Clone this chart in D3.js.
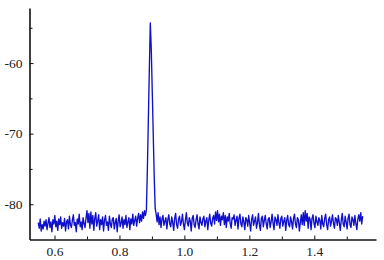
<!DOCTYPE html>
<html>
<head>
<meta charset="utf-8">
<script src="https://cdn.jsdelivr.net/npm/d3@7"></script>
<style>
  body { margin: 0; background: #fff; }
  .axis text { font-family: "Liberation Serif", "Times New Roman", serif; font-size: 13.5px; fill: #222; }
  .axis path, .axis line { stroke: #111; }
</style>
</head>
<body>
<div id="chart"></div>
<script>
// Sampling of the spectrum (x in arbitrary units)
var freqStart = 0.550;
var freqStep = 0.003;

// Levels, left baseline / peak / right baseline
var baseLeft = [
  -82.6,-83.4,-82.1,-83.8,-82.9,-83.5,-82.4,-83.1,-82.2,-83.6,
  -82.7,-81.9,-83.3,-82.5,-83.9,-82.2,-82.8,-81.6,-83.2,-82.4,
  -83.7,-82.1,-82.9,-81.8,-83.4,-82.6,-83.1,-82.0,-83.8,-82.5,
  -82.2,-83.5,-81.7,-82.9,-83.3,-82.3,-81.5,-83.0,-82.6,-83.9,
  -82.1,-82.8,-81.4,-83.2,-82.5,-83.6,-81.9,-82.7,-83.3,-82.0,
  -80.9,-82.6,-81.3,-83.4,-81.1,-82.8,-81.6,-83.7,-82.0,-81.2,
  -83.1,-82.4,-81.5,-83.6,-82.2,-82.9,-81.8,-83.8,-82.3,-81.6,
  -83.0,-82.5,-83.7,-81.7,-82.8,-83.3,-82.1,-81.9,-83.5,-82.6,
  -82.0,-83.9,-82.4,-81.5,-83.2,-82.7,-81.8,-83.4,-82.2,-82.9,
  -81.6,-83.3,-82.5,-81.9,-83.6,-82.1,-82.8,-81.4,-83.0,-82.3,
  -81.7,-83.1,-82.0,-81.3,-82.6,-81.5,-82.4,-81.1,-82.0,-80.9,
  -81.6
];
var peak = [-80.8,-75.0,-68.0,-61.0,-54.3,-58.0,-64.0,-70.0,-76.0,-80.6];
var baseRight = [
  -81.4,-82.5,-81.2,-82.9,-81.8,-83.3,-82.1,-81.6,-83.0,-82.4,
  -81.9,-83.5,-82.2,-81.5,-82.8,-83.2,-81.8,-82.6,-83.7,-82.0,
  -81.3,-82.9,-83.4,-82.1,-81.7,-83.0,-82.5,-81.4,-82.8,-83.6,
  -82.3,-81.2,-82.7,-83.1,-81.9,-82.4,-83.8,-82.0,-81.6,-82.9,
  -83.3,-82.2,-81.5,-82.8,-83.5,-81.8,-82.6,-83.0,-82.1,-81.7,
  -83.2,-82.4,-81.9,-83.6,-82.3,-81.4,-82.7,-83.1,-82.0,-81.6,
  -82.8,-81.1,-82.3,-80.9,-82.5,-81.4,-83.0,-81.7,-82.2,-81.2,
  -82.9,-81.6,-83.3,-81.8,-82.4,-81.3,-82.7,-83.4,-81.9,-82.1,
  -81.5,-83.0,-82.3,-81.7,-83.5,-82.0,-81.4,-82.8,-83.2,-81.8,
  -82.5,-83.6,-81.9,-82.2,-83.1,-81.6,-82.7,-83.8,-82.1,-81.5,
  -83.0,-82.4,-81.8,-83.4,-82.6,-81.3,-82.9,-83.7,-82.0,-81.7,
  -83.2,-82.3,-81.6,-82.8,-83.5,-82.1,-81.9,-83.3,-82.5,-81.4,
  -82.7,-83.6,-81.8,-82.2,-83.0,-81.5,-82.6,-83.4,-82.0,-81.7,
  -83.1,-82.4,-81.9,-83.7,-82.3,-81.6,-82.9,-83.2,-81.8,-82.5,
  -83.5,-82.0,-81.4,-82.8,-83.3,-81.9,-82.2,-83.8,-82.6,-81.5,
  -82.9,-81.2,-83.0,-80.9,-82.4,-81.3,-83.4,-81.8,-82.1,-83.6,
  -82.0,-81.5,-82.7,-83.3,-81.7,-82.5,-83.0,-81.9,-82.3,-83.5,
  -81.6,-82.8,-83.2,-82.0,-81.4,-82.9,-83.6,-82.2,-81.8,-83.1,
  -82.4,-81.5,-82.7,-83.4,-81.9,-82.1,-83.0,-81.6,-82.6,-83.7,
  -82.3,-81.3,-82.8,-83.2,-81.7,-82.5,-83.5,-82.0,-81.4,-82.9,
  -83.3,-81.8,-82.2,-83.0,-81.6,-82.7,-83.6,-82.1,-81.5,-82.4,
  -81.2,-82.8,-81.7
];

// Tick values
var xMajor = [0.6, 0.8, 1.0, 1.2, 1.4];
var xMinor = [0.7, 0.9, 1.1, 1.3, 1.5];
var yMajor = [-80, -70, -60];
var yMinor = [-75, -65, -55];

var svgWidth = 384;
var svgHeight = 260;

var svg = d3.select("#chart")
  .append("svg")
  .attr("width", svgWidth)
  .attr("height", svgHeight);

var levels = baseLeft.concat(peak, baseRight);
var spectrum = levels.map(function (v, i) {
  return { f: freqStart + i * freqStep, level: v };
});

var xScale = d3.scaleLinear()
  .domain([0.523, 1.59])
  .range([29.5, 376]);

var yScale = d3.scaleLinear()
  .domain([-85, -52.2])
  .range([239.5, 8]);

// the trace
var line = d3.line()
  .x(d => xScale(d.f))
  .y(d => yScale(d.level));

svg.append("path")
  .datum(spectrum)
  .attr("fill", "none")
  .attr("stroke", "#1010cc")
  .attr("stroke-width", 1.35)
  .attr("stroke-linejoin", "round")
  .attr("d", line);

// minor ticks first, axes on top
svg.append("g")
  .attr("class", "axis")
  .attr("transform", "translate(0, 239.5)")
  .call(d3.axisBottom(xScale).tickValues(xMinor).tickSize(-3).tickFormat(""))
  .call(g => g.select(".domain").remove());

svg.append("g")
  .attr("class", "axis")
  .attr("transform", "translate(29.5, 0)")
  .call(d3.axisLeft(yScale).tickValues(yMinor).tickSize(-3).tickFormat(""))
  .call(g => g.select(".domain").remove());

var xAxis = svg.append("g")
  .attr("class", "axis")
  .attr("transform", "translate(0, 239.5)")
  .call(d3.axisBottom(xScale).tickValues(xMajor).tickSizeInner(-4).tickSizeOuter(0).tickPadding(7).tickFormat(d3.format(".1f")));
xAxis.select(".domain").attr("stroke-width", 1.6);

var yAxis = svg.append("g")
  .attr("class", "axis")
  .attr("transform", "translate(29.5, 0)")
  .call(d3.axisLeft(yScale).tickValues(yMajor).tickSizeInner(-4).tickSizeOuter(0).tickPadding(7));
yAxis.select(".domain").attr("stroke-width", 1.6);
yAxis.selectAll("text").text(d => "-" + Math.abs(d));
</script>
</body>
</html>
